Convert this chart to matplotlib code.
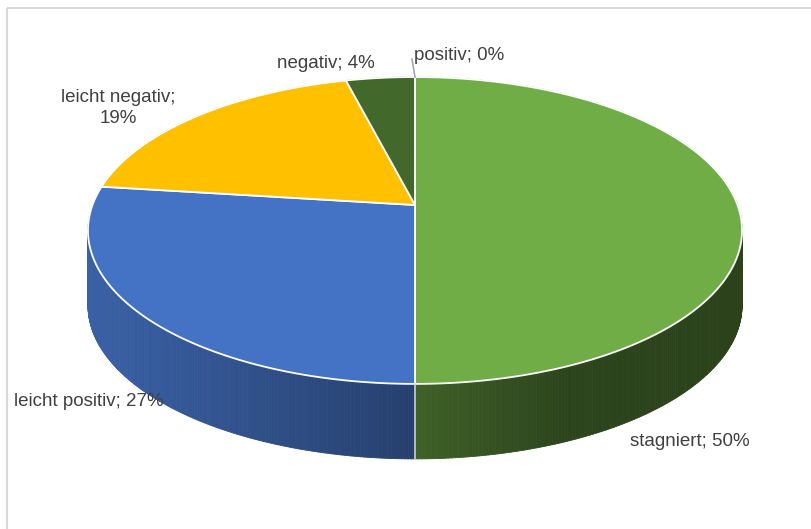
import numpy as np
import matplotlib.pyplot as plt
from matplotlib.patches import Polygon, Rectangle
from matplotlib.collections import PolyCollection

# data
categories = ['stagniert', 'leicht positiv', 'leicht negativ', 'negativ', 'positiv']
shares = [50, 27, 19, 4, 0]
colors = ['#70ad47', '#4472c4', '#ffc000', '#43682b', '#5b9bd5']

# 3d look (pixel units)
cx, cy = 415, 205
a, b, k = 322.5, 149.2, 0.166
depth = 75

def proj(theta, dz=0.0):
    t = np.radians(theta)
    X, Y = np.cos(t), np.sin(t)
    w = 1 + k * Y
    return cx + a * X / w, cy - b * Y / w + dz

def shade(x):
    return np.interp(x, [88, 415, 560, 742], [0.85, 0.56, 0.40, 0.38])

fig = plt.figure(figsize=(8.12, 5.29), dpi=100)
ax = fig.add_axes([0, 0, 1, 1])
ax.set_xlim(0, 812)
ax.set_ylim(529, 0)
ax.axis('off')

ax.add_patch(Rectangle((7, 8), 900, 600, fill=False, edgecolor='#d9d9d9', lw=1.5))

total = float(sum(shares))
bounds = [90.0]
for s in shares:
    bounds.append(bounds[-1] - 360.0 * s / total)

# side walls
strips, strip_cols = [], []
for i, s in enumerate(shares):
    t1, t2 = bounds[i], bounds[i + 1]
    if t1 == t2:
        continue
    ts = np.linspace(t1, t2, max(2, int(abs(t1 - t2) * 2)))
    base = np.array(plt.matplotlib.colors.to_rgb(colors[i]))
    for j in range(len(ts) - 1):
        x1, y1 = proj(ts[j])
        x2, y2 = proj(ts[j + 1])
        strips.append([(x1, y1), (x2, y2), (x2, y2 + depth), (x1, y1 + depth)])
        strip_cols.append(np.clip(base * shade((x1 + x2) / 2), 0, 1))
ax.add_collection(PolyCollection(strips, facecolors=strip_cols, edgecolors=strip_cols, linewidths=0.6))

for t in bounds:
    if np.sin(np.radians(t)) < -k:
        x, y = proj(t)
        ax.plot([x, x], [y, y + depth], color='#d0d0d0', lw=1.2)

# top faces
for i, s in enumerate(shares):
    t1, t2 = bounds[i], bounds[i + 1]
    if t1 == t2:
        continue
    ts = np.linspace(t1, t2, 200)
    pts = [(cx, cy)] + [proj(t) for t in ts]
    ax.add_patch(Polygon(pts, closed=True, facecolor=colors[i], edgecolor='white', lw=1.3))

# labels
txt = dict(fontfamily='Liberation Sans', fontsize=13.5, color='#404040')
ax.text(630, 441, '%s; %d%%' % (categories[0], shares[0]), ha='left', va='center', **txt)
ax.text(14, 402, '%s; %d%%' % (categories[1], shares[1]), ha='left', va='center', **txt)
ax.text(118, 108, '%s;\n%d%%' % (categories[2], shares[2]), ha='center', va='center',
        multialignment='center', linespacing=1.3, **txt)
ax.text(326, 63, '%s; %d%%' % (categories[3], shares[3]), ha='center', va='center', **txt)
ax.text(414, 55, '%s; %d%%' % (categories[4], shares[4]), ha='left', va='center', **txt)
px, py = proj(bounds[4])
ax.plot([px - 3, px], [py - 18, py], color='#a6a6a6', lw=1.2)

fig.savefig('out.png', dpi=100)
